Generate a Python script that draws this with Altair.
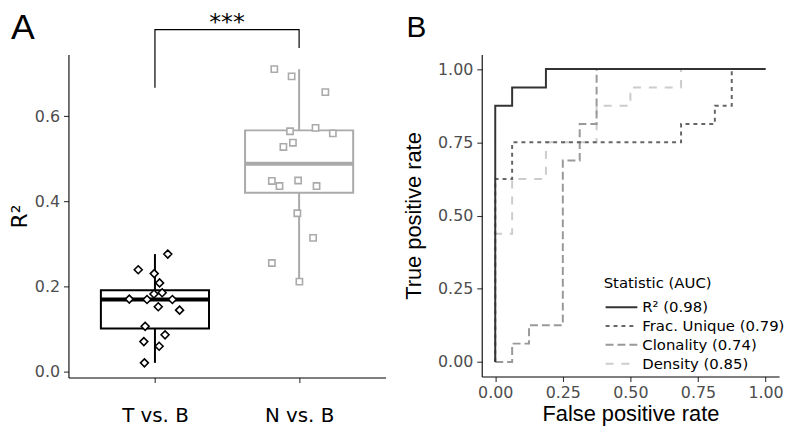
import altair as alt
import pandas as pd

# ---------------- Panel A data ----------------
groups = ["T vs. B", "N vs. B"]
t_r2 = [0.276, 0.239, 0.230, 0.208, 0.182, 0.185, 0.170, 0.169, 0.169, 0.152,
        0.144, 0.106, 0.086, 0.070, 0.059, 0.020]
t_jitter = [0.089, -0.116, -0.005, 0.032, -0.007, 0.050, -0.178, -0.055, 0.121, 0.023,
            0.171, -0.068, 0.070, -0.077, 0.029, -0.073]
n_r2 = [0.711, 0.694, 0.657, 0.565, 0.573, 0.560, 0.528, 0.538, 0.448, 0.436,
        0.449, 0.436, 0.372, 0.314, 0.255, 0.211]
n_jitter = [-0.172, -0.052, 0.182, -0.063, 0.114, 0.234, -0.109, -0.043, -0.189, -0.136,
            -0.007, 0.121, -0.012, 0.097, -0.189, 0.002]
group_colors = ["#000000", "#AAAAAA"]
group_shapes = ["diamond", "square"]

sig_x = [1, 1, 2, 2]
sig_y = [0.667, 0.804, 0.804, 0.761]
sig_label = "***"

# ---------------- Panel B data ----------------
stat_labels = ["R\u00b2 (0.98)", "Frac. Unique (0.79)", "Clonality (0.74)", "Density (0.85)"]
stat_colors = ["#333333", "#666666", "#999999", "#CCCCCC"]
stat_dashes = [[1, 0], [4, 4], [8, 4], [8, 8]]
r2_fpr = [0, 0, 0.0625, 0.0625, 0.1875, 0.1875, 1.0]
r2_tpr = [0, 0.875, 0.875, 0.9375, 0.9375, 1.0, 1.0]
fu_fpr = [0, 0, 0.0625, 0.0625, 0.6875, 0.6875, 0.8125, 0.8125, 0.875, 0.875, 1.0]
fu_tpr = [0, 0.625, 0.625, 0.75, 0.75, 0.8125, 0.8125, 0.875, 0.875, 1.0, 1.0]
cl_fpr = [0, 0.0625, 0.0625, 0.125, 0.125, 0.25, 0.25, 0.3125, 0.3125, 0.375, 0.375, 1.0]
cl_tpr = [0, 0, 0.0625, 0.0625, 0.125, 0.125, 0.6875, 0.6875, 0.8125, 0.8125, 1.0, 1.0]
de_fpr = [0, 0, 0.0625, 0.0625, 0.1875, 0.1875, 0.375, 0.375, 0.5, 0.5, 0.6875, 0.6875, 1.0]
de_tpr = [0, 0.4375, 0.4375, 0.625, 0.625, 0.75, 0.75, 0.875, 0.875, 0.9375, 0.9375, 1.0, 1.0]

# ---------------- tables ----------------
pts = pd.DataFrame({
    "group": [groups[0]] * len(t_r2) + [groups[1]] * len(n_r2),
    "pos": [1] * len(t_r2) + [2] * len(n_r2),
    "r2": t_r2 + n_r2,
    "jit": t_jitter + n_jitter,
})
sig_df = pd.DataFrame({"bx": sig_x, "by": sig_y, "o": list(range(len(sig_x)))})
star_df = pd.DataFrame({"x": [sum(sig_x) / len(sig_x)], "y": [max(sig_y)], "t": [sig_label]})

rows = []
curves = [(stat_labels[3], de_fpr, de_tpr), (stat_labels[2], cl_fpr, cl_tpr),
          (stat_labels[1], fu_fpr, fu_tpr), (stat_labels[0], r2_fpr, r2_tpr)]
for name, xs, ys in curves:
    for i, (a, b) in enumerate(zip(xs, ys)):
        rows.append({"stat": name, "i": i, "fpr": a, "tpr": b})
roc = pd.DataFrame(rows)

# ---------------- Panel A ----------------
xA = alt.Scale(domain=[0.4, 2.6], nice=False, zero=False)
yA = alt.Scale(domain=[-0.0146, 0.7456], nice=False, zero=False)
colA = alt.Scale(domain=groups, range=group_colors)
lab_expr = "[" + ",".join("'" + g + "'" for g in groups) + "][datum.value - 1]"

x_axis_A = alt.Axis(values=[1, 2], labelExpr=lab_expr, title=None, labelFontSize=20,
                    labelColor="black", labelPadding=23, labelFont="DejaVu Sans")
y_axis_A = alt.Axis(values=[0, 0.2, 0.4, 0.6], format=".1f", title="R\u00b2",
                    titleFontSize=22, labelFontSize=16, titlePadding=3)

base = alt.Chart(pts)
agg = base.transform_aggregate(
    q1="q1(r2)", q3="q3(r2)", med="median(r2)", lo="min(r2)", hi="max(r2)",
    groupby=["group", "pos"],
).transform_calculate(x1="datum.pos - 0.375", x2="datum.pos + 0.375")

whisk = agg.mark_rule(strokeWidth=2).encode(
    x=alt.X("pos:Q", scale=xA, axis=x_axis_A),
    y=alt.Y("lo:Q", scale=yA, axis=y_axis_A),
    y2="hi:Q",
    color=alt.Color("group:N", scale=colA, legend=None),
)
box = agg.mark_rect(fill="white", strokeWidth=2).encode(
    x="x1:Q", x2="x2:Q", y="q1:Q", y2="q3:Q",
    stroke=alt.Stroke("group:N", scale=colA, legend=None),
)
med = agg.mark_rule(strokeWidth=4).encode(
    x="x1:Q", x2="x2:Q", y="med:Q",
    color=alt.Color("group:N", scale=colA, legend=None),
)
points = base.transform_calculate(xj="datum.pos + datum.jit").mark_point(
    filled=False, fill="white", strokeWidth=1.6, opacity=1
).encode(
    x="xj:Q", y="r2:Q",
    color=alt.Color("group:N", scale=colA, legend=None),
    shape=alt.Shape("group:N", scale=alt.Scale(domain=groups, range=group_shapes), legend=None),
    size=alt.Size("group:N", scale=alt.Scale(domain=groups, range=[64, 40]), legend=None),
)
bracket = alt.Chart(sig_df).mark_line(color="black", strokeWidth=1.2).encode(
    x="bx:Q", y="by:Q", order="o:Q"
)
stars = alt.Chart(star_df).mark_text(fontSize=24, baseline="alphabetic", color="black",
                                     font="DejaVu Sans").encode(
    x="x:Q", y="y:Q", text="t:N"
)
labA = alt.Chart(pd.DataFrame({"t": ["A"]})).mark_text(
    font="Liberation Sans", fontSize=36, align="left", baseline="alphabetic", color="black"
).encode(x=alt.value(-58), y=alt.value(-16), text="t:N")

panelA = alt.layer(whisk, box, med, points, bracket, stars, labA).properties(
    width=320, height=326
)

# ---------------- Panel B ----------------
xB = alt.Scale(domain=[-0.05, 1.05], nice=False, zero=False)
yB = alt.Scale(domain=[-0.05, 1.05], nice=False, zero=False)
ticksB = [0, 0.25, 0.5, 0.75, 1.0]
leg = alt.Legend(
    title="Statistic (AUC)", orient="none", legendX=123, legendY=224,
    symbolType="M-2,0H2", symbolSize=256, symbolStrokeWidth=2, symbolOffset=9,
    labelOffset=12, rowPadding=2, labelFontSize=15, titleFontSize=15,
    titleFontWeight="normal", labelFont="DejaVu Sans", titleFont="DejaVu Sans",
    labelColor="black", titleColor="black", titlePadding=7, labelLimit=300,
)
lines = alt.Chart(roc).mark_line(strokeWidth=2).encode(
    x=alt.X("fpr:Q", scale=xB, axis=alt.Axis(values=ticksB, format=".2f",
            title="False positive rate", titleFont="Liberation Sans", titleFontSize=22,
            labelFontSize=16, labelPadding=3, titlePadding=3)),
    y=alt.Y("tpr:Q", scale=yB, axis=alt.Axis(values=ticksB, format=".2f",
            title="True positive rate", titleFont="Liberation Sans", titleFontSize=22,
            labelFontSize=16, titlePadding=12)),
    color=alt.Color("stat:N", scale=alt.Scale(domain=stat_labels, range=stat_colors), legend=leg),
    strokeDash=alt.StrokeDash("stat:N", scale=alt.Scale(domain=stat_labels, range=stat_dashes),
                              legend=leg),
    order="i:Q",
)
labB = alt.Chart(pd.DataFrame({"t": ["B"]})).mark_text(
    font="Liberation Sans", fontSize=30, align="left", baseline="alphabetic", color="black"
).encode(x=alt.value(-76), y=alt.value(-18), text="t:N")

panelB = alt.layer(lines, labB).properties(width=300, height=325)

chart = alt.hconcat(panelA, panelB, spacing=17, padding=0).resolve_scale(
    color="independent", stroke="independent", strokeDash="independent",
    shape="independent", size="independent",
).resolve_legend(color="independent", strokeDash="independent").configure(
    font="DejaVu Sans"
).configure_view(stroke=None).configure_axis(
    grid=False, domainColor="black", domainWidth=1.1, tickColor="#333333", tickWidth=1.1,
    tickSize=5, labelColor="#4D4D4D", titleColor="black", titleFontWeight="normal",
    labelPadding=4,
)

chart.save("out.html", embed_options={"renderer": "svg", "actions": False})
